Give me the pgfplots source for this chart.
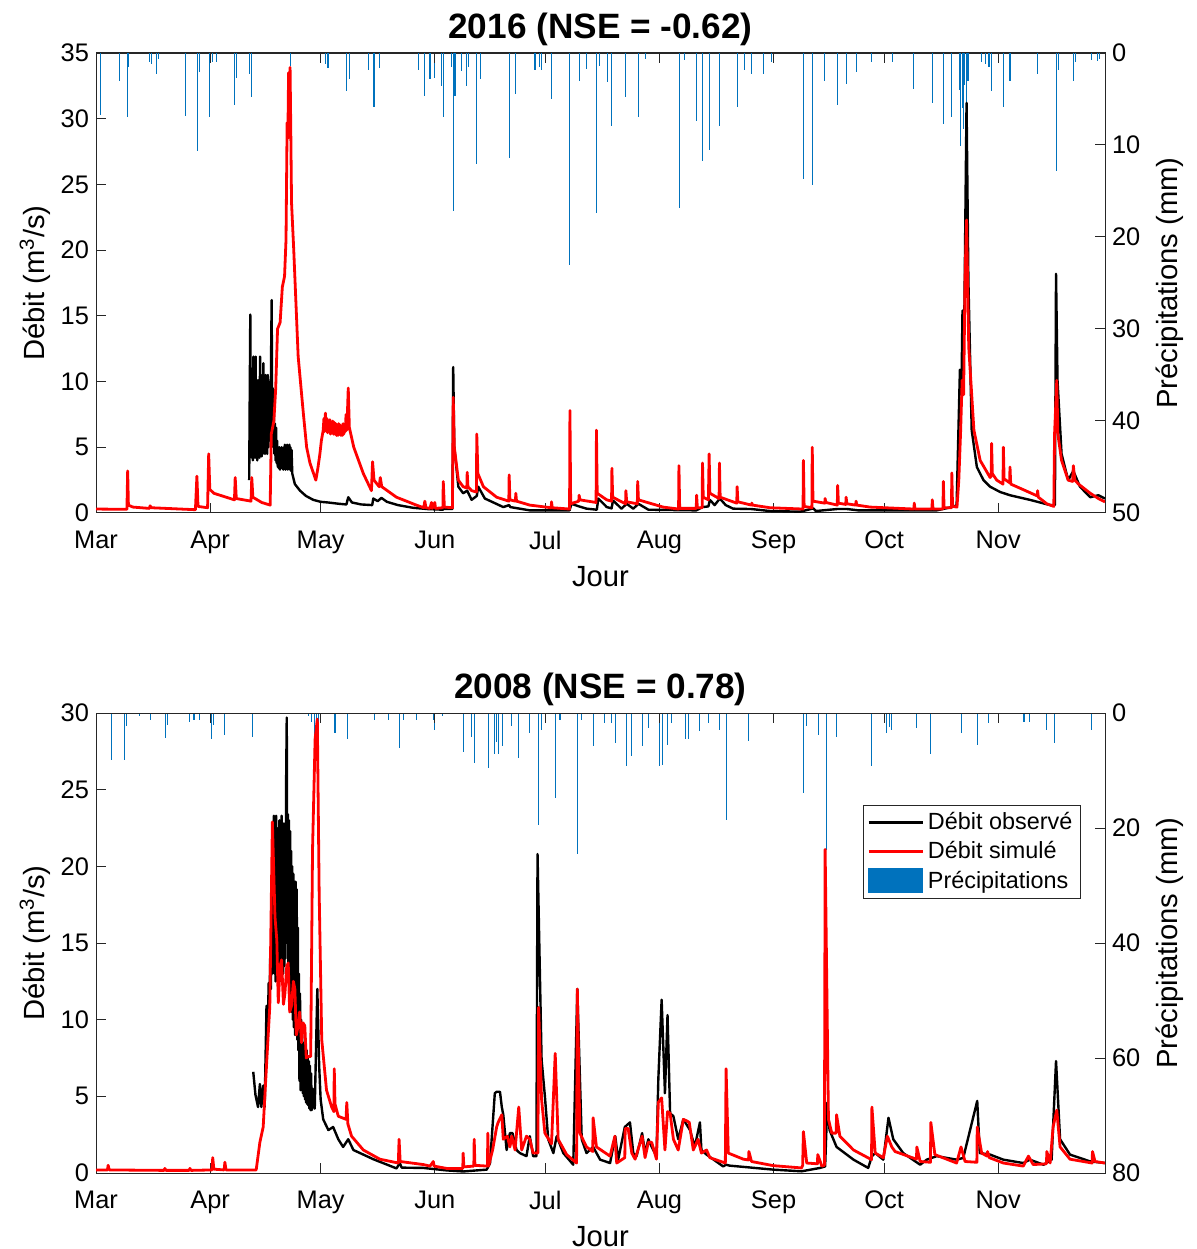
\documentclass[border=0pt]{standalone}
\usepackage{pgfplots}
\pgfplotsset{compat=1.18}
\usepackage{fontspec}
\setmainfont{Liberation Sans}
\definecolor{pblue}{RGB}{0,114,189}
\definecolor{axgray}{RGB}{38,38,38}
\pgfplotsset{
  base/.style={
    scale only axis, width=504.5bp, height=230bp,
    xmin=0, xmax=274,
    axis line style={axgray, line width=0.5bp},
    tick style={axgray, line width=0.5bp},
    major tick length=5bp,
    tick align=inside,
    /pgf/number format/assume math mode=true,
    ticklabel style={font=\fontsize{12.7bp}{15bp}\selectfont, text=black},
    label style={font=\fontsize{14.6bp}{17bp}\selectfont},
  },
  precip/.style={base,
    ymin=0, y dir=reverse,
    ytick pos=right, yticklabel pos=right,
    xtick=\empty,
    ylabel={Précipitations (mm)},
    ylabel style={at={(axis description cs:1.0645,0.5)}, anchor=center},
  },
  flow/.style={base,
    ymin=0,
    ytick pos=left,
    xtick={0,31,61,92,122,153,184,214,245},
    xticklabels={Mar,Apr,May,Jun,Jul,Aug,Sep,Oct,Nov},
    xticklabel style={yshift=-5.5bp},
    xlabel={Jour},
    ylabel={Débit (m\textsuperscript{3}/s)},
    xlabel style={at={(axis description cs:0.5,-0.139)}, anchor=center},
    ylabel style={at={(axis description cs:-0.0605,0.5)}, anchor=center},
    title style={at={(axis description cs:0.5,1.026)}, anchor=center, yshift=0pt, font=\fontsize{17.6bp}{20bp}\selectfont\bfseries},
  },
  obs/.style={black, line width=1.2bp, line join=round, no markers},
  sim/.style={red, line width=1.4bp, line join=round, no markers},
  rain/.style={ycomb, pblue, line width=0.55bp, no markers},
}
\begin{document}
\begin{tikzpicture}
\useasboundingbox (-48bp,-38bp) rectangle (550.5bp,586.5bp);
% ================= 2016 =================
\begin{axis}[precip, at={(0,330bp)}, anchor=south west, ymax=50, ytick={0,10,20,30,40,50}]
\addplot[rain] coordinates {
(1.1,6.7) (6.5,3.0) (8.5,7.0) (8.8,1.5) (14.5,1.0) (15.0,1.2) (16.5,2.3) (17,0.6) (24.2,6.8) (27.5,10.7) (28.2,2.1) (30.7,7.0) (31.6,1.0) (32.8,1.0) (37.7,5.7) (38.2,2.7) (41.8,2.3) (42.3,4.8) (52.7,1.4) (62.2,1.2) (63.0,1.6) (68.0,4.1) (68.8,2.8) (73.9,1.9) (75.5,5.9) (76.9,1.6) (87.5,1.9) (89.3,4.7) (90.7,2.8)
(91.8,2.7) (93.9,3.6) (94.3,7.0) (96.5,1.5) (97.0,17.2) (97.5,4.7) (99.3,2.0) (100.6,3.6) (101.2,1.5) (103.4,12.1) (104.3,2.8) (112.2,11.4) (113.9,4.5) (119.2,1.9) (120.5,1.5) (121.0,1.9) (123.7,5.0) (128.7,23.0) (131.2,3.0) (133.1,1.7) (135.9,17.4) (136.8,1.4) (138.8,3.2) (140.0,7.9) (143.8,4.8) (147.3,7.0) (149.1,0.7) (158.4,16.8) (159.9,0.8) (163.1,7.4) (164.7,11.7) (166.5,10.5) (169.3,7.9) (174.1,5.9) (176.2,1.9) (178.0,2.3) (181.2,2.3) (183.5,1.0)
(184.0,0.8) (192.1,13.7) (194.5,14.3) (197.8,3.0) (201.4,5.6) (203.7,3.4) (206.4,2.1) (210.6,1.0) (216.4,1.0) (222.1,3.9) (227.1,5.4) (230.1,7.7) (232.2,7.0) (234.4,4.0) (234.8,10.1) (235.2,6) (235.5,8.3) (235.8,3.5) (236.4,5.4) (236.8,3) (240.5,1.0) (241.5,1.2) (242.5,1.5) (243.1,4.1) (246.4,5.9) (248.2,3.0) (255.7,2.3) (260.9,12.8) (261.3,1.8) (265.4,3.0) (266,1.0) (270.4,0.8) (272.0,0.9) (272.5,0.6)
};
\end{axis}
\begin{axis}[flow, at={(0,330bp)}, anchor=south west, ymax=35, ytick={0,5,...,35}, title={2016 (NSE = -0.62)}]
\addplot[obs] coordinates {
(41.6,2.5) (41.75,9) (41.9,15.1) (42.0,5) (42.15,11) (42.3,4.2) (42.45,10.5) (42.6,4.0) (42.75,11.9) (42.9,4.5) (43.05,10) (43.2,4.2) (43.35,11.9) (43.5,5) (43.65,9.5) (43.8,4.0) (43.95,10.1) (44.1,4.5) (44.25,9) (44.4,4.2) (44.55,11.9) (44.7,5) (44.85,10.5) (45.0,4.3) (45.15,9) (45.3,4.5) (45.45,11.4) (45.6,4.8) (45.75,10) (45.9,4.5) (46.05,10.5) (46.2,5) (46.35,9.5) (46.5,4.5) (46.65,10.5) (46.8,5) (46.95,9) (47.1,5.5) (47.25,10) (47.4,5.5) (47.55,12) (47.7,16.2) (47.85,6) (48.0,9.5) (48.15,5) (48.3,8) (48.45,4.5) (48.6,6.8) (48.75,4.0) (48.9,6.5) (49.05,3.8) (49.2,5.5) (49.35,3.5) (49.5,5.0) (49.65,3.4) (49.8,5.0) (49.95,3.3) (50.1,4.5) (50.25,3.4) (50.4,5.0) (50.55,3.5) (50.7,4.8) (50.85,3.3) (51.0,5.0) (51.15,3.5) (51.3,5.2) (51.45,3.3) (51.6,4.8) (51.75,3.5) (51.9,5.2) (52.05,3.3) (52.2,5.0) (52.35,3.4) (52.5,5.2) (52.65,3.3) (52.8,5.0) (52.95,3.2) (53.1,4.8) (53.3,3.0)
(54.0,2.2) (55.4,1.7) (57.0,1.3) (59.0,1.0) (61.0,0.85) (63.0,0.8) (66.0,0.7) (68.0,0.65) (68.5,1.2) (69.5,0.8) (72.0,0.65) (75.0,0.6) (75.3,1.1) (76.5,0.9) (77.5,1.15) (79.0,0.85) (82.0,0.6) (86.0,0.4) (90.0,0.3) (94.3,0.25) (94.4,0.6) (94.7,0.3) (96.8,0.3) (97.0,11.1) (97.3,5.0) (98.4,2.0) (99.7,1.5) (100.8,1.7) (102.0,1.0) (103.4,1.3) (103.8,2.0) (105.6,1.1) (110.6,0.45) (112.2,0.6) (112.5,0.45) (117.8,0.2) (128.6,0.2) (129.1,0.7) (131.2,0.5) (133.2,0.33) (136.0,0.25) (136.4,1.1) (138.7,0.45) (140.0,0.35) (140.4,0.95) (142.7,0.33) (144.1,0.7) (145.9,0.33) (147.3,0.7) (150.0,0.25) (163.0,0.2) (164.7,0.45) (166.3,0.5) (166.7,1.0) (168.0,0.6) (169.4,1.1) (171.0,0.6) (173.0,0.33) (178.0,0.3) (183.0,0.15) (191.2,0.1) (194.8,0.35) (195.5,0.15) (201.2,0.3) (204.0,0.3) (207.0,0.2) (228.3,0.2) (232.4,0.45) (233.7,0.58) (234.6,10.9) (235.0,9.0) (235.3,15.4) (235.8,15.0) (236.4,31.2) (236.9,17.7) (237.8,6.3) (239.2,3.5) (241.0,2.5) (242.8,2.0) (245.5,1.6) (248.2,1.35) (253.6,1.0) (259.1,0.6) (260.4,0.6) (260.7,18.2) (261.1,10.1) (262.2,4.5) (264.0,2.5) (265.4,3.2) (267.2,2.0) (270.0,1.2) (272.2,1.35) (274.0,1.1)
};
\addplot[sim] coordinates {
(0,0.30) (8.4,0.28) (8.6,3.2) (8.8,0.6) (10,0.45) (14.5,0.35) (14.7,0.55) (15.0,0.4) (27.0,0.25) (27.4,2.8) (27.7,0.5) (30.3,0.4) (30.6,4.5) (30.9,1.8) (32,1.5) (37.6,1.0) (37.8,2.7) (38.1,1.1) (42.1,0.9) (42.3,2.7) (42.6,1.2) (45,0.8) (47.3,0.6) (47.6,6.0) (48.3,7.0) (48.8,9.5) (49.3,14.0) (50.0,14.5) (50.6,17.2) (51.2,18.0) (51.6,20.8) (51.9,29.7) (52.1,28.5) (52.3,33.5) (52.5,30.0) (52.7,33.9) (52.9,29.0) (53.1,23.6) (53.7,20.0) (54.9,11.9) (56.3,7.6) (57.2,5.0) (58.1,3.8) (59.7,2.5) (60.3,3.5) (60.8,4.5) (61.2,5.5) (61.7,6.3) (61.9,7.2) (62.1,6.2) (62.3,7.6) (62.5,6.4) (62.7,7.2) (62.9,6.1) (63.1,7.0) (63.3,6.2) (63.5,7.1) (63.7,6.0) (63.9,6.9) (64.1,6.1) (64.3,7.0) (64.5,6.0) (64.7,6.9) (64.9,6.0) (65.1,6.8) (65.3,5.9) (65.5,6.7) (65.7,5.9) (65.9,6.8) (66.1,6.0) (66.3,6.7) (66.5,5.9) (66.7,6.6) (66.9,5.9) (67.1,6.8) (67.3,6.0) (67.5,6.7) (67.7,6.2) (67.9,7.5) (68.1,6.3) (68.3,7.8) (68.5,9.5) (68.8,6.5) (70.0,5.0) (72.6,3.0) (74.8,1.7) (75.1,3.9) (75.5,2.5) (76.9,2.0) (77.2,2.7) (77.6,2.0) (81.6,1.2) (87.0,0.6) (89.0,0.4) (89.3,0.9) (89.6,0.4) (90.7,0.35) (91.1,0.8) (91.3,0.35) (92.0,0.8) (92.2,0.35) (94.2,0.4) (94.3,2.4) (94.6,0.45) (96.8,0.4) (97.0,8.8) (97.3,5.0) (98.4,2.5) (99.7,2.0) (100.7,1.9) (100.8,3.1) (101.0,2.0) (102.0,1.7) (103.3,1.6) (103.4,6.0) (103.7,3.0) (105.2,2.0) (108.8,1.2) (112.1,0.9) (112.2,2.9) (112.4,1.0) (113.9,0.9) (114.0,1.5) (114.2,0.9) (117.8,0.6) (123.6,0.4) (123.7,0.85) (123.9,0.4) (128.6,0.3) (128.7,7.8) (128.9,0.7) (131.1,0.9) (131.2,1.35) (131.4,1.0) (135.8,0.8) (135.9,6.3) (136.1,1.5) (138.7,1.0) (140.0,0.9) (140.1,3.4) (140.3,1.2) (143.8,0.7) (143.9,1.7) (144.1,0.85) (147.0,0.7) (147.1,2.4) (147.3,1.0) (154.0,0.45) (158.2,0.3) (158.3,3.6) (158.5,0.35) (163.0,0.35) (163.1,1.35) (163.3,0.4) (164.6,0.4) (164.7,3.8) (164.9,1.2) (166.3,1.0) (166.5,4.5) (166.7,1.5) (169.2,1.1) (169.3,3.8) (169.5,1.2) (174.0,0.75) (174.1,2.0) (174.3,0.85) (178.0,0.6) (178.1,0.75) (178.3,0.6) (183.0,0.4) (192.0,0.3) (192.1,4.0) (192.3,0.5) (194.4,0.4) (194.5,5.0) (194.7,0.9) (197.9,0.75) (198.0,1.1) (198.2,0.8) (201.3,0.6) (201.4,2.1) (201.6,0.75) (203.6,0.65) (203.7,1.2) (203.9,0.7) (206.3,0.6) (206.4,0.9) (206.6,0.6) (210.2,0.45) (222.1,0.3) (222.2,0.75) (222.4,0.3) (227.0,0.3) (227.1,1.0) (227.3,0.3) (230.0,0.3) (230.1,2.4) (230.3,0.4) (232.3,0.4) (232.4,3.05) (232.6,0.5) (233.8,0.45) (234.3,2.5) (234.8,6.3) (235.2,10.1) (235.6,9.0) (236.0,18.0) (236.4,22.3) (237.0,12.6) (238.4,6.3) (240.1,4.0) (242.8,2.7) (243.1,2.8) (243.2,5.3) (243.4,3.0) (244.6,2.5) (246.3,2.2) (246.4,5.0) (246.6,2.6) (248.1,2.3) (248.2,3.5) (248.4,2.2) (250.0,2.0) (255.6,1.3) (255.7,1.7) (255.9,1.2) (258.2,0.7) (260.1,0.5) (260.3,6.0) (260.9,10.1) (261.2,6.0) (262.2,4.0) (264.0,2.5) (265.2,2.4) (265.4,3.6) (265.8,2.5) (266.8,2.2) (270.0,1.5) (272.2,1.1) (274.0,0.85)
};
\end{axis}
% ================= 2008 =================
\begin{axis}[precip, at={(0,0)}, anchor=south west, ymax=80, ytick={0,20,40,60,80}]
\addplot[rain] coordinates {
(0.2,0.9) (4.3,8.1) (7.8,8.1) (8.2,2.3) (11.8,0.6) (14.8,1.2) (18.8,4.3) (19.5,2) (25.5,1.5) (26.6,1.2) (28.2,1.2) (31.3,4.6) (31.9,2) (35.0,3.8) (42.5,4.1) (57.6,0.6) (58.6,1.5) (59.3,6.4) (59.8,5) (60.3,3) (64.9,3.5) (68.2,4.6) (75.7,1.2) (79.4,1.2) (82.3,6.1) (83.4,1.2) (87.0,1.2) (91.6,1.2)
(91.9,2.9) (94.0,0.6) (99.7,6.7) (102.0,4.1) (102.7,8.7) (106.5,9.6) (108.3,7.2) (108.8,5) (109.3,7.2) (110.3,5.8) (112.9,2.3) (114.8,7.8) (117.8,3.5) (120.2,19.4) (121.0,2.9) (124.7,14.8) (126.0,1.2) (130.7,24.6) (131.9,1.2) (135.0,5.8) (138.0,1.7) (140.0,1.7) (141.1,5.2) (144.1,9.3) (145.4,7.5) (148.3,5.8) (150.0,2.6) (153.1,9.3) (153.9,9.0) (155.2,5.5) (156.3,1.7) (160.0,4.6) (160.8,4.6) (164.0,3.2) (166.3,1.7) (169.4,2.9) (171.1,18.6) (177.3,4.9) (183.9,1.2)
(192.1,13.9) (193.0,2.3) (196.2,3.8) (198.3,23.8) (201.1,4.1) (210.7,9.3) (214.7,3.5) (215.5,2.5) (216.1,3.0) (222.9,2.6) (226.7,7.2) (235.1,3.5) (239.3,5.5) (242.3,1.7) (252.0,1.5) (253.6,1.5) (258.2,2.9) (260.4,5.2) (270.4,2.9)
};
\end{axis}
\begin{axis}[flow, at={(0,0)}, anchor=south west, ymax=30, ytick={0,5,...,30}, title={2008 (NSE = 0.78)},
  legend cell align=left,
  legend style={at={(0.976,0.8)}, anchor=north east, draw=axgray, line width=0.5bp, fill=white,
    font=\fontsize{11.7bp}{14bp}\selectfont, inner xsep=2bp, inner ysep=1.5bp, row sep=0.5bp},
  legend image code/.code={\draw[#1] (0bp,0bp) -- (27bp,0bp);}]
\addplot[obs] coordinates {
(42.7,6.6) (43.3,5.1) (44.0,4.3) (44.5,5.8) (44.9,4.3) (45.4,5.7) (45.8,4.3) (46.3,10.9) (46.6,9) (46.9,12.4) (47.1,10.5) (47.3,14) (47.5,12) (47.7,17) (47.85,13) (48.0,20) (48.15,14) (48.3,23.3) (48.45,13) (48.6,22.6) (48.75,12.5) (48.9,23.3) (49.05,13) (49.2,22) (49.35,12.5) (49.5,22.5) (49.65,14) (49.8,23) (49.95,13) (50.1,22.5) (50.25,12.5) (50.4,23.3) (50.55,14) (50.7,21.5) (50.85,13) (51.0,22.8) (51.15,13.5) (51.3,22) (51.45,14) (51.65,26) (51.8,29.7) (51.95,15) (52.1,23.4) (52.25,12.5) (52.4,23) (52.55,12) (52.7,22.3) (52.85,11) (53.0,21) (53.15,10.5) (53.3,20) (53.45,10) (53.6,19.5) (53.75,9.5) (53.9,19) (54.05,9) (54.2,19) (54.35,9) (54.5,18.5) (54.65,8.7) (54.8,16) (54.95,8) (55.1,13) (55.25,6) (55.4,11.7) (55.55,5.4) (55.7,10) (55.85,5.4) (56.0,9) (56.15,5.2) (56.3,8.5) (56.45,5.0) (56.6,8.4) (56.75,4.8) (56.9,8.2) (57.05,4.6) (57.2,8.0) (57.35,4.5) (57.5,7.6) (57.65,4.4) (57.8,7.3) (57.95,4.2) (58.1,7.0) (58.25,4.1) (58.4,6.5) (58.6,4.1) (58.8,5.5) (59.4,4.2) (60.1,12) (60.6,7) (61.0,4.8) (61.7,3.5) (63.1,2.8) (64.4,3.0) (65.8,2.2) (67.1,1.7) (68.5,2.2) (69.9,1.5) (75.3,0.9) (81.6,0.3) (82.5,0.65) (83.0,0.35) (88.9,0.33) (95.2,0.17) (99.7,0.1) (106.1,0.22) (107.0,0.65) (108.3,5.2) (108.8,5.3) (109.7,5.3) (110.2,4.3) (110.6,3.8) (111.5,1.5) (112.4,2.6) (113.1,2.6) (114.2,1.5) (115.1,1.3) (116.9,1.1) (117.8,2.4) (118.7,1.1) (119.6,1.1) (119.9,20.8) (121.0,7.4) (121.9,5.0) (122.8,2.2) (124.2,1.3) (125.1,2.4) (126.9,1.3) (129.6,0.54) (130.7,12.0) (131.9,2.2) (133.2,1.3) (135.0,1.7) (136.9,0.87) (139.6,0.65) (141.0,2.4) (141.8,0.87) (143.6,3.0) (145.0,3.3) (145.9,1.3) (146.8,1.1) (148.3,2.6) (149.1,1.3) (150.0,2.2) (150.9,1.7) (152.2,1.1) (152.7,6.1) (153.6,11.3) (154.5,5.2) (155.2,10.3) (155.9,3.9) (156.8,3.7) (158.1,2.2) (159.5,3.5) (161.3,2.8) (162.6,1.7) (164.0,3.3) (164.4,1.5) (165.8,1.2) (170.3,0.43) (171.1,0.54) (172.1,0.48) (183.9,0.22) (191.6,0.11) (196.6,0.33) (198.0,0.43) (198.6,4.6) (199.2,2.8) (201.1,1.7) (205.7,0.87) (209.7,0.33) (210.7,1.1) (211.6,1.3) (213.8,0.87) (215.2,3.6) (216.5,2.2) (219.2,1.3) (223.8,0.54) (225.6,0.87) (228.3,1.1) (233.7,0.87) (235.5,0.98) (239.3,4.7) (240.0,1.3) (242.8,1.2) (246.4,0.87) (251.8,0.65) (253.6,0.87) (257.3,0.54) (259.5,0.87) (260.7,7.3) (261.8,2.2) (264.5,1.2) (269.9,0.76) (274.0,0.65)
};
\addlegendentry{Débit observé}
\addplot[sim] coordinates {
(0,0.2) (3.1,0.2) (3.3,0.5) (3.6,0.2) (18.5,0.17) (18.7,0.3) (19.0,0.17) (25.3,0.17) (25.5,0.3) (25.8,0.17) (31.5,0.2) (31.7,1.0) (32.0,0.25) (34.8,0.2) (35.0,0.7) (35.3,0.2) (43.5,0.2) (44.5,2.0) (45.4,3.0) (46.3,7.0) (47.2,10.9) (47.9,22.9) (48.6,16.7) (49.1,15.2) (49.5,11.1) (50.0,13.5) (50.4,13.9) (50.9,11.0) (51.3,11.7) (51.8,13.5) (52.2,13.7) (52.6,10.5) (53.1,10.9) (53.6,12.5) (54.0,12.0) (54.4,9.0) (54.9,9.6) (55.3,10.5) (55.8,8.5) (56.2,9.8) (56.7,9.6) (57.1,7.5) (57.6,7.6) (58.3,7.6) (58.8,21.1) (59.5,28.3) (60.1,29.6) (60.6,18.3) (61.3,8.7) (62.6,5.4) (64.0,4.3) (64.6,4.0) (64.7,6.8) (64.9,4.5) (65.8,3.7) (67.9,3.5) (68.1,4.6) (68.4,3.2) (69.4,2.4) (72.6,1.5) (77.1,0.9) (82.1,0.65) (82.3,2.2) (82.6,0.75) (88.9,0.55) (90.7,0.45) (91.6,0.75) (91.8,0.45) (95.2,0.3) (99.6,0.3) (99.7,1.3) (99.9,0.4) (102.6,0.45) (102.7,2.2) (102.9,0.5) (106.3,0.45) (106.4,2.6) (106.6,0.45) (107.7,1.5) (108.8,3.0) (109.2,3.3) (110.2,3.8) (110.6,2.2) (111.7,2.4) (112.4,1.7) (112.9,2.4) (113.8,1.5) (114.8,4.3) (115.6,1.5) (116.9,2.4) (117.8,2.2) (118.7,1.3) (120.0,1.3) (120.2,10.8) (121.0,4.8) (121.9,2.6) (123.7,1.9) (124.7,7.8) (125.5,2.2) (127.8,1.2) (130.5,0.65) (130.7,12.0) (131.4,2.6) (133.2,1.7) (134.9,1.4) (135.0,3.6) (135.9,1.7) (139.6,1.1) (140.9,2.4) (141.4,0.65) (143.6,1.0) (143.7,2.9) (144.5,2.9) (145.5,1.3) (146.4,0.9) (148.3,2.4) (149.1,1.0) (150.0,2.0) (150.9,2.0) (152.2,0.9) (152.7,4.6) (153.6,4.9) (154.5,1.5) (155.2,4.0) (155.9,3.9) (156.8,2.2) (158.1,1.5) (159.5,3.5) (160.4,3.4) (161.1,3.3) (162.2,1.5) (163.5,2.2) (164.4,1.3) (165.8,1.5) (166.7,1.0) (170.9,0.65) (171.1,6.8) (171.7,1.3) (175.8,0.9) (177.2,0.85) (177.3,1.4) (178.0,0.75) (183.9,0.48) (191.6,0.33) (191.9,0.5) (192.1,2.7) (193.0,0.65) (195.9,0.6) (196.0,1.2) (197.1,0.45) (197.8,0.5) (198.0,21.1) (198.9,3.5) (199.8,2.6) (201.0,2.6) (201.1,3.8) (202.0,2.4) (205.7,1.5) (210.6,0.87) (210.7,4.3) (211.6,1.3) (213.8,1.0) (214.9,2.4) (216.1,1.7) (217.0,1.4) (222.8,0.9) (222.9,1.7) (223.8,0.75) (226.6,0.7) (226.7,3.3) (227.8,1.2) (233.7,0.65) (234.9,1.7) (236.0,0.75) (239.2,0.7) (239.3,3.0) (240.5,1.3) (242.0,1.1) (242.1,1.4) (242.6,1.0) (246.4,0.65) (251.8,0.45) (253.2,1.1) (254.5,0.55) (258.1,0.6) (258.2,1.4) (259.1,0.65) (259.9,3.0) (260.9,4.1) (261.8,1.7) (264.5,0.9) (270.5,0.65) (270.6,1.4) (271.3,0.75) (274.0,0.65)
};
\addlegendentry{Débit simulé}
\addlegendimage{legend image code/.code={\fill[pblue] (0bp,-6bp) rectangle (27bp,6bp);}}
\addlegendentry{Précipitations}
\end{axis}
\end{tikzpicture}
\end{document}
